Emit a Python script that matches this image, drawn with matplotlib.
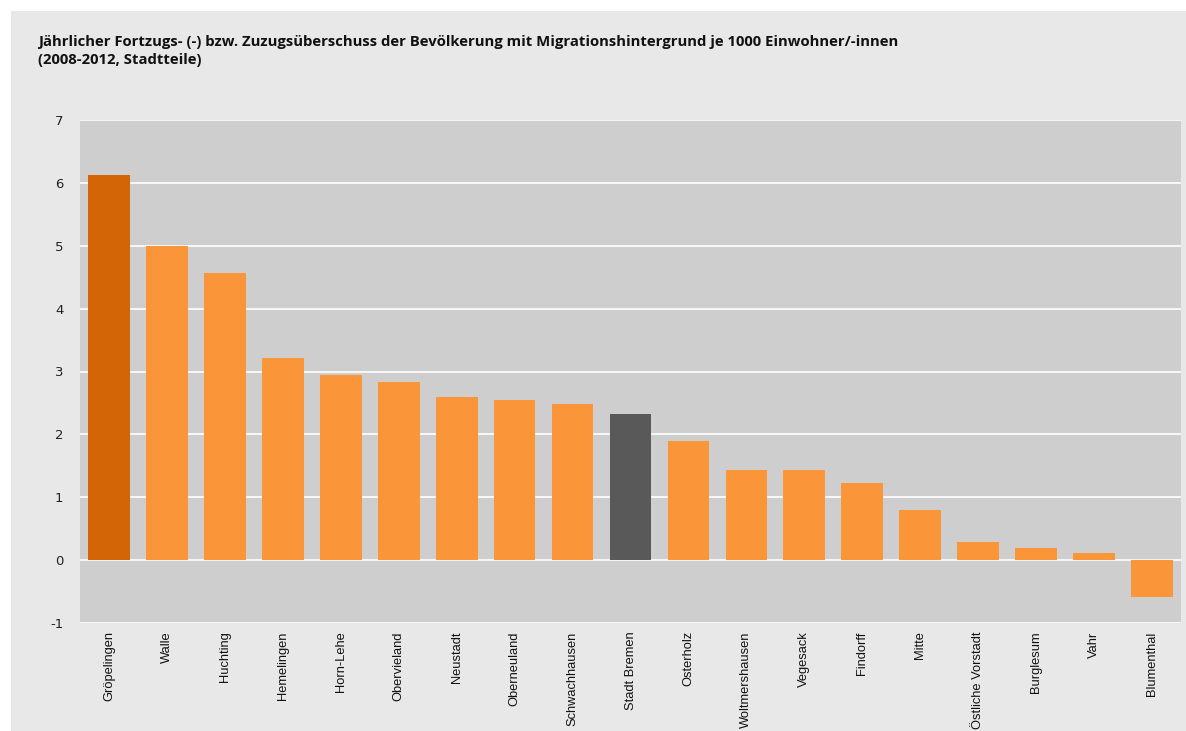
import matplotlib
matplotlib.use("Agg")
import matplotlib.pyplot as plt
from matplotlib.patches import Rectangle

categories = ["Gröpelingen", "Walle", "Huchting", "Hemelingen", "Horn-Lehe",
              "Obervieland", "Neustadt", "Oberneuland", "Schwachhausen",
              "Stadt Bremen", "Osterholz", "Woltmershausen", "Vegesack",
              "Findorff", "Mitte", "Östliche Vorstadt", "Burglesum", "Vahr",
              "Blumenthal"]
values = [6.13, 5.00, 4.57, 3.21, 2.95, 2.84, 2.60, 2.54, 2.48, 2.32,
          1.89, 1.44, 1.43, 1.22, 0.80, 0.29, 0.20, 0.12, -0.59]
yticks = [-1, 0, 1, 2, 3, 4, 5, 6, 7]
title = ("Jährlicher Fortzugs- (-) bzw. Zuzugsüberschuss der Bevölkerung mit "
         "Migrationshintergrund je 1000 Einwohner/-innen\n(2008-2012, Stadtteile)")

W, H = 1186, 731
fig = plt.figure(figsize=(W / 100, H / 100), dpi=100, facecolor="white")
fig.patches.append(Rectangle((11 / W, 0), 1 - 11 / W + 0.01, 1 - 11 / H,
                             transform=fig.transFigure, facecolor="#E8E8E8",
                             edgecolor="none", linewidth=0, zorder=-10))

ax = fig.add_axes([80 / W, 1 - 623 / H, (1181 - 80) / W, (623 - 120) / H])
ax.set_facecolor("#CECECE")

colors = []
for c in categories:
    if c == "Gröpelingen":
        colors.append("#D46506")
    elif c == "Stadt Bremen":
        colors.append("#595959")
    else:
        colors.append("#FA9639")

x = list(range(len(categories)))
ax.bar(x, values, width=0.72, color=colors, zorder=3)

ax.set_xlim(-0.5, len(categories) - 0.5)
ax.set_ylim(-1, 7)
ax.set_yticks(yticks)
ax.set_yticklabels([str(t) for t in yticks], fontsize=9.5, color="#222222",
                   family="DejaVu Sans")
ax.set_xticks(x)
ax.set_xticklabels(categories, rotation=90, fontsize=9.3, family="Liberation Sans",
                   va="top", ha="center", color="#111111")
ax.tick_params(axis="both", length=0)
ax.tick_params(axis="y", pad=12)
ax.tick_params(axis="x", pad=6)
ax.grid(axis="y", color="white", linewidth=1.2, zorder=1)
ax.set_axisbelow(True)
for s in ax.spines.values():
    s.set_visible(False)

fig.text(38 / W, 1 - 35 / H, title, fontsize=10.7, fontweight="bold",
         family="Open Sans", va="top", ha="left", color="#111111", linespacing=1.35)

fig.savefig("out.png", dpi=100, facecolor=fig.get_facecolor())
